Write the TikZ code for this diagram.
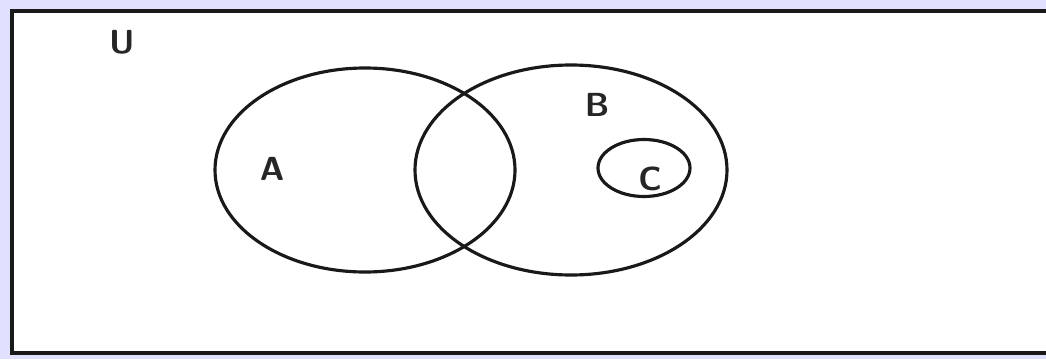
\documentclass[tikz,border=0pt]{standalone}
\usepackage{tikz}
\usetikzlibrary{shapes.geometric, positioning}

\begin{document}
\begin{tikzpicture}[
    font=\sffamily\bfseries\fontsize{19}{22}\selectfont,
    % Define specific node styles
    set_node/.style={ellipse, draw=black!90, line width=1.8pt, inner sep=0pt},
    label_node/.style={text=black!85, inner sep=0pt},
    frame/.style={draw=black!90, line width=2.4pt, fill=white},
]

% Canvas and universe frame
\useasboundingbox (0,0) rectangle (20.92,7.18);
\fill[blue!12] (0,0) rectangle (20.92,7.18);
\draw[frame] (0.24,0.12) rectangle (21.5,6.96);

% Sets
\node[set_node, minimum width=6.0cm, minimum height=4.08cm] (setA) at (7.3,3.78) {};
\node[set_node, minimum width=6.24cm, minimum height=4.2cm] (setB) at (11.42,3.78) {};
\node[set_node, minimum width=1.84cm, minimum height=1.14cm] (setC) at (12.88,3.82) {};

% Labels
\node[label_node] (labU) at (2.44,6.34) {U};
\node[label_node] (labA) at (5.44,3.8) {A};
\node[label_node] (labB) at (11.94,5.08) {B};
\node[label_node] (labC) at (13.0,3.6) {C};

\end{tikzpicture}
\end{document}
